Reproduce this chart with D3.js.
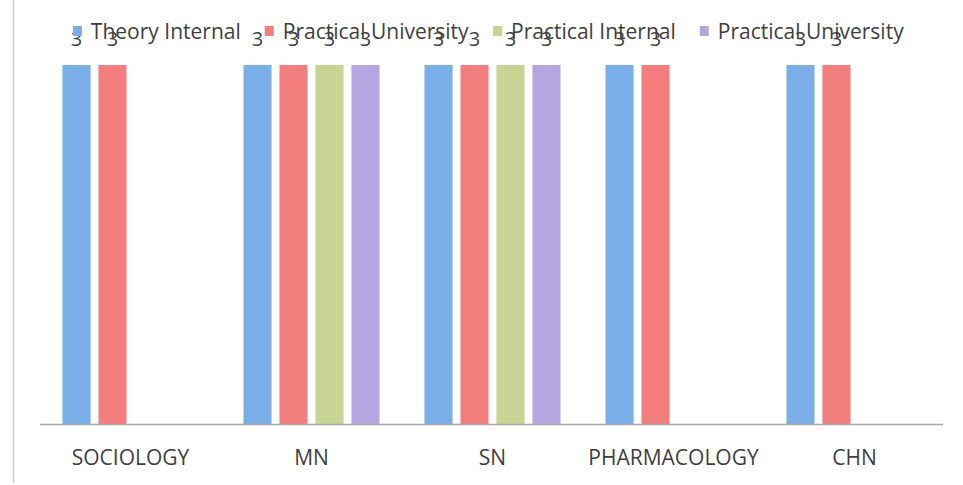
<!DOCTYPE html>
<html>
<head>
<meta charset="utf-8">
<script src="https://cdn.jsdelivr.net/npm/d3@7"></script>
<style>
  html, body { margin: 0; padding: 0; background: #fff; }
  svg { display: block; font-family: "Open Sans", sans-serif; }
</style>
</head>
<body>
<svg id="chart" width="963" height="485"></svg>
<script>
// data
const subjects = ["SOCIOLOGY", "MN", "SN", "PHARMACOLOGY", "CHN"];
const seriesNames = ["Theory Internal", "Practical University", "Practical Internal", "Practical University"];
const theoryInternal = [3, 3, 3, 3, 3];
const practicalUniv1 = [3, 3, 3, 3, 3];
const practicalInternal = [null, 3, 3, null, null];
const practicalUniv2 = [null, 3, 3, null, null];
const colors = ["#79aee8", "#f27e7e", "#c8d494", "#b4a6e0"];

const seriesValues = [theoryInternal, practicalUniv1, practicalInternal, practicalUniv2];

const svg = d3.select("#chart");

// frame line on the left
svg.append("line")
  .attr("x1", 13.5).attr("x2", 13.5)
  .attr("y1", 0).attr("y2", 483)
  .attr("stroke", "#cfcfcf").attr("stroke-width", 1.5);

const x0 = d3.scaleBand()
  .domain(subjects)
  .range([40, 945]);

const x1 = d3.scaleBand()
  .domain(d3.range(seriesNames.length))
  .range([0, x0.bandwidth()])
  .paddingInner(0.22)
  .paddingOuter(0.625);

const y = d3.scaleLinear()
  .domain([0, 3])
  .range([424, 65]);

const rows = [];
subjects.forEach((s, i) => {
  seriesValues.forEach((vals, k) => {
    if (vals[i] != null) rows.push({ subject: s, k, value: vals[i] });
  });
});

const g = svg.append("g");

g.selectAll("rect.bar")
  .data(rows)
  .join("rect")
  .attr("class", "bar")
  .attr("x", d => x0(d.subject) + x1(d.k))
  .attr("y", d => y(d.value))
  .attr("width", x1.bandwidth())
  .attr("height", d => y(0) - y(d.value))
  .attr("fill", d => colors[d.k]);

// baseline
svg.append("line")
  .attr("x1", 40).attr("x2", 943)
  .attr("y1", y(0) + 0.5).attr("y2", y(0) + 0.5)
  .attr("stroke", "#a8a8a8").attr("stroke-width", 1.5);

// category labels
const xAxis = svg.append("g")
  .attr("transform", `translate(0,${y(0)})`)
  .call(d3.axisBottom(x0).tickSize(0).tickPadding(26));
xAxis.select(".domain").remove();
xAxis.selectAll("text")
  .attr("font-family", "Open Sans, sans-serif")
  .attr("font-size", 21)
  .attr("fill", "#3f3f3f");

// legend
const legend = svg.append("g");
const items = legend.selectAll("g")
  .data(seriesNames)
  .join("g");
items.append("rect")
  .attr("width", 9).attr("height", 10)
  .attr("y", -13)
  .attr("fill", (d, i) => colors[i]);
items.append("text")
  .attr("x", 18)
  .attr("font-size", 21)
  .attr("fill", "#3f3f3f")
  .text(d => d);

const gap = 24;
let cx = 0;
const offs = [];
items.each(function () {
  offs.push(cx);
  cx += this.getBBox().width + gap;
});
const totalW = cx - gap;
const lx = 65 + (847 - totalW) / 2;
items.attr("transform", (d, i) => `translate(${lx + offs[i]},39)`);

// value labels (they sit up in the legend row)
g.selectAll("text.val")
  .data(rows)
  .join("text")
  .attr("class", "val")
  .attr("x", d => x0(d.subject) + x1(d.k) + x1.bandwidth() / 2)
  .attr("y", d => y(d.value) - 19)
  .attr("text-anchor", "middle")
  .attr("font-size", 20)
  .attr("fill", "#3f3f3f")
  .text(d => d.value);
</script>
</body>
</html>
